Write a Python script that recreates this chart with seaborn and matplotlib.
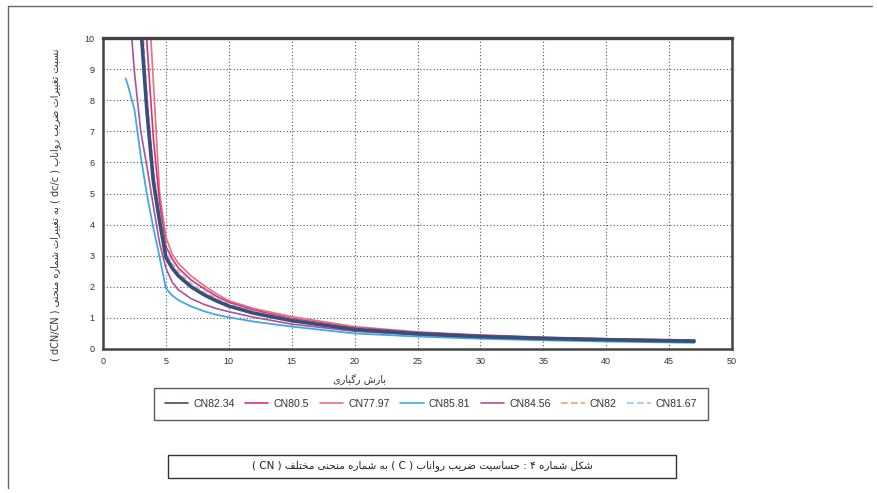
import numpy as np
import pandas as pd
import matplotlib
matplotlib.use("Agg")
import matplotlib.pyplot as plt
import seaborn as sns
from matplotlib.lines import Line2D
from matplotlib.patches import Rectangle

# ---------------- data ----------------
x_vals = [1.8, 2, 2.5, 3, 3.5, 4, 4.5, 5, 5.5, 6, 7, 8, 9, 10, 12, 15, 20, 25, 30, 35, 40, 47]
nan = np.nan
cn82_34 = [nan, nan, nan, 10.4, 7.6, 5.4, 4.1, 2.95, 2.6, 2.35, 2.0, 1.75, 1.55, 1.38, 1.15, 0.91, 0.63, 0.49, 0.40, 0.34, 0.30, 0.25]
cn80_5 = [nan, nan, nan, 12.8, 9.8, 6.8, 4.7, 3.3, 2.9, 2.6, 2.22, 1.95, 1.70, 1.50, 1.25, 0.98, 0.68, 0.53, 0.44, 0.37, 0.32, 0.28]
cn77_97 = [nan, nan, nan, nan, 12.2, 8.6, 5.0, 3.6, 3.05, 2.75, 2.35, 2.05, 1.78, 1.55, 1.30, 1.04, 0.72, 0.55, 0.45, 0.38, 0.33, 0.29]
cn85_81 = [8.7, 8.45, 7.7, 6.2, 4.95, 3.9, 2.95, 1.95, 1.72, 1.57, 1.37, 1.22, 1.10, 1.02, 0.88, 0.72, 0.50, 0.40, 0.33, 0.28, 0.24, 0.20]
cn84_56 = [nan, 11.5, 8.9, 7.0, 5.85, 4.6, 3.4, 2.6, 2.15, 1.9, 1.62, 1.44, 1.30, 1.2, 1.02, 0.80, 0.57, 0.45, 0.37, 0.31, 0.27, 0.23]
cn82 = [nan, nan, nan, 11.0, 7.9, 5.6, 4.25, 3.05, 2.68, 2.42, 2.06, 1.8, 1.60, 1.42, 1.18, 0.93, 0.65, 0.50, 0.41, 0.35, 0.30, 0.26]
cn81_67 = [nan, nan, nan, 11.5, 8.2, 5.8, 4.4, 3.15, 2.76, 2.5, 2.12, 1.85, 1.64, 1.46, 1.21, 0.95, 0.67, 0.52, 0.42, 0.36, 0.31, 0.27]

series_names = ["CN82.34", "CN80.5", "CN77.97", "CN85.81", "CN84.56", "CN82", "CN81.67"]
series_values = [cn82_34, cn80_5, cn77_97, cn85_81, cn84_56, cn82, cn81_67]
x_ticks = [0, 5, 10, 15, 20, 25, 30, 35, 40, 45, 50]
y_ticks = [0, 1, 2, 3, 4, 5, 6, 7, 8, 9, 10]

caption_text = "شکل شماره ۴ : حساسیت ضریب رواناب ( C ) به شماره منحنی مختلف ( CN )"
xlabel_text = "بارش رگباری"
ylabel_text = "نسبت تغییرات ضریب رواناب ( dc/c ) به تغییرات شماره منحنی ( dCN/CN )"

# ---------------- minimal Persian shaping for matplotlib ----------------
FORMS = {
    'ا': ('\uFE8D', '\uFE8E', None, None),
    'ب': ('\uFE8F', '\uFE90', '\uFE91', '\uFE92'),
    'ت': ('\uFE95', '\uFE96', '\uFE97', '\uFE98'),
    'ح': ('\uFEA1', '\uFEA2', '\uFEA3', '\uFEA4'),
    'خ': ('\uFEA5', '\uFEA6', '\uFEA7', '\uFEA8'),
    'ر': ('\uFEAD', '\uFEAE', None, None),
    'س': ('\uFEB1', '\uFEB2', '\uFEB3', '\uFEB4'),
    'ش': ('\uFEB5', '\uFEB6', '\uFEB7', '\uFEB8'),
    'ض': ('\uFEBD', '\uFEBE', '\uFEBF', '\uFEC0'),
    'غ': ('\uFECD', '\uFECE', '\uFECF', '\uFED0'),
    'ف': ('\uFED1', '\uFED2', '\uFED3', '\uFED4'),
    'ل': ('\uFEDD', '\uFEDE', '\uFEDF', '\uFEE0'),
    'م': ('\uFEE1', '\uFEE2', '\uFEE3', '\uFEE4'),
    'ن': ('\uFEE5', '\uFEE6', '\uFEE7', '\uFEE8'),
    'ه': ('\uFEE9', '\uFEEA', '\uFEEB', '\uFEEC'),
    'و': ('\uFEED', '\uFEEE', None, None),
    '\u06A9': ('\uFB8E', '\uFB8F', '\uFB90', '\uFB91'),
    '\u06AF': ('\uFB92', '\uFB93', '\uFB94', '\uFB95'),
    '\u06CC': ('\uFBFC', '\uFBFD', '\uFBFE', '\uFBFF'),
}


def shape_word(w):
    w = w.replace('\u064A', '\u06CC').replace('\u0643', '\u06A9')
    out = []
    for i, ch in enumerate(w):
        if ch not in FORMS:
            out.append(ch)
            continue
        prev_j = i > 0 and w[i - 1] in FORMS and FORMS[w[i - 1]][2] is not None
        next_j = (i < len(w) - 1 and w[i + 1] in FORMS and FORMS[ch][2] is not None)
        if prev_j and next_j:
            idx = 3
        elif prev_j:
            idx = 1
        elif next_j:
            idx = 2
        else:
            idx = 0
        out.append(FORMS[ch][idx])
    return ''.join(reversed(out))


def rtl(text):
    toks = []
    mirror = {'(': ')', ')': '('}
    for t in text.split():
        if any(c in FORMS or c in '\u064A\u0643' for c in t):
            toks.append(shape_word(t))
        else:
            toks.append(''.join(mirror.get(c, c) for c in t))
    return ' '.join(reversed(toks))


# ---------------- plotting ----------------
sns.set_theme(style="white")
plt.rcParams['font.family'] = ['Liberation Sans', 'DejaVu Sans']

colors = {
    "CN82.34": "#3a4f78",
    "CN80.5": "#d8307a",
    "CN77.97": "#e8707a",
    "CN85.81": "#3fa9e6",
    "CN84.56": "#b0509a",
    "CN82": "#f0a070",
    "CN81.67": "#9cc4e8",
}
widths = {"CN82.34": 2.6, "CN80.5": 1.2, "CN77.97": 1.2, "CN85.81": 1.3,
          "CN84.56": 1.2, "CN82": 1.0, "CN81.67": 1.0}
dashes = {"CN82": (4, 2), "CN81.67": (4, 2)}

fig = plt.figure(figsize=(8.78, 4.93), dpi=100)
ax = fig.add_axes([103 / 878, 1 - 349 / 493, (732 - 103) / 878, (349 - 38) / 493])

rows = []
for name, vals in zip(series_names, series_values):
    for xv, yv in zip(x_vals, vals):
        rows.append((name, xv, yv))
df = pd.DataFrame(rows, columns=["series", "x", "y"]).dropna()

draw_order = ["CN77.97", "CN80.5", "CN81.67", "CN82", "CN84.56", "CN85.81", "CN82.34"]
for name in draw_order:
    sub = df[df.series == name]
    sns.lineplot(data=sub, x="x", y="y", ax=ax, color=colors[name],
                 linewidth=widths[name], estimator=None, sort=True, legend=False)
    ax.lines[-1].set_solid_joinstyle('round')
    if name in dashes:
        ax.lines[-1].set_dashes(dashes[name])

ax.set_xlim(0, 50)
ax.set_ylim(0, 10)
ax.set_xticks(x_ticks)
ax.set_yticks(y_ticks)
ax.tick_params(axis='both', labelsize=6.5, colors='#333333', length=0, pad=6)
ax.set_xlabel("")
ax.set_ylabel("")
ax.grid(True, color='#555555', linestyle=(0, (1, 2)), linewidth=0.8)
for s in ax.spines.values():
    s.set_color('#444444')
    s.set_linewidth(1.8)
ax.spines['top'].set_linewidth(2.4)

# axis labels
fig.text(360 / 878, 1 - 380 / 493, rtl(xlabel_text), fontsize=7,
         family=['DejaVu Sans'], ha='center', va='center', color='#333333')
fig.text(56 / 878, 1 - 205 / 493, rtl(ylabel_text), fontsize=7, rotation=90,
         family=['DejaVu Sans'], ha='center', va='center', color='#333333')

# legend
handles = []
for n in series_names:
    ln = Line2D([0], [0], color=colors[n], lw=1.2)
    if n in dashes:
        ln.set_dashes(dashes[n])
    handles.append(ln)
leg = fig.legend(handles, series_names, ncol=7, loc='center',
                 bbox_to_anchor=(431 / 878, 1 - 404 / 493), fontsize=7.6,
                 frameon=True, fancybox=False, handlelength=2.2, handletextpad=0.5,
                 columnspacing=1.0, borderpad=1.0)
leg.get_frame().set_edgecolor('#333333')
leg.get_frame().set_linewidth(1.0)
for t in leg.get_texts():
    t.set_color('#333333')

# caption box
fig.add_artist(Rectangle((168 / 878, 1 - 478 / 493), (676 - 168) / 878, 23 / 493,
                         transform=fig.transFigure, facecolor='white',
                         edgecolor='#333333', linewidth=1.0))
fig.text(422 / 878, 1 - 466 / 493, rtl(caption_text), fontsize=7.5,
         family=['DejaVu Sans'], ha='center', va='center', color='#222222')

# scanned page border
fig.add_artist(Line2D([8 / 878, 872 / 878], [1 - 6 / 493, 1 - 6 / 493],
                      transform=fig.transFigure, color='#666666', lw=1.0))
fig.add_artist(Line2D([8 / 878, 8 / 878], [1 - 6 / 493, 1 - 488 / 493],
                      transform=fig.transFigure, color='#666666', lw=1.0))

fig.savefig("out.png", dpi=100)
